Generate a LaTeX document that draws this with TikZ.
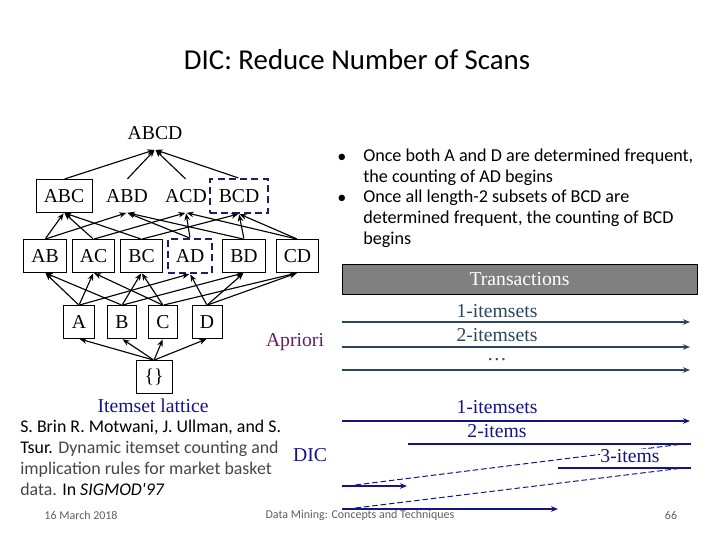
\documentclass[tikz,border=0pt]{standalone}
\usepackage{fontspec}
\setmainfont{Liberation Serif}
\newfontfamily\slidefont{Carlito}
\usetikzlibrary{arrows.meta,positioning,calc}
\definecolor{dicblue}{RGB}{20,20,135}
\definecolor{dashcol}{RGB}{30,30,100}
\definecolor{aprcol}{RGB}{100,30,100}
\definecolor{scancol}{RGB}{45,70,95}
\definecolor{citegray}{RGB}{70,70,70}
\definecolor{footgray}{RGB}{95,95,95}

\tikzset{
  latfont/.style={font=\fontsize{14}{16}\selectfont},
  setbox/.style={latfont,draw,line width=0.6pt,inner sep=0pt,minimum height=0.82cm},
  plainset/.style={latfont,inner sep=0pt,minimum height=0.82cm},
  dashset/.style={latfont,draw=dashcol,line width=1.5pt,dash pattern=on 5pt off 3pt,inner sep=0pt,minimum height=0.84cm},
  edge/.style={->,line width=0.8pt,shorten <=0.5pt,shorten >=0.5pt},
  slidetext/.style={font=\slidefont\fontsize{12.9}{14.7}\selectfont,inner sep=0pt,align=left},
  scanarrow/.style={->,scancol,line width=1.3pt},
  dicarrow/.style={->,dicblue,line width=1.6pt},
  dicline/.style={dicblue,line width=1pt},
  dicdash/.style={dicblue,line width=0.7pt,dash pattern=on 4pt off 2pt},
  scanlab/.style={latfont,scancol,inner sep=0pt},
  diclab/.style={latfont,dicblue,inner sep=0pt},
  foot/.style={font=\slidefont\fontsize{8.5}{10}\selectfont,footgray,inner sep=0pt}
}

\begin{document}
\begin{tikzpicture}[x=0.025cm,y=-0.025cm,>={Stealth[length=5pt,width=4pt]}]
  \useasboundingbox (0,0) rectangle (720,540);
  \node[font=\slidefont\fontsize{20.5}{24}\selectfont] (title) at (357,60) {DIC: Reduce Number of Scans};

  % itemset lattice
  \node[plainset] (abcd) at (155,133) {ABCD};
  \node[setbox,minimum width=1.4cm] (abc) at (64,196) {ABC};
  \node[plainset] (abd) at (127,196) {ABD};
  \node[plainset] (acd) at (186,196) {ACD};
  \node[dashset,minimum width=1.45cm] (bcd) at (239,196) {BCD};
  \node[setbox,minimum width=1.07cm] (ab) at (45,256) {AB};
  \node[setbox,minimum width=1.07cm] (ac) at (93.5,256) {AC};
  \node[setbox,minimum width=1.07cm] (bc) at (141.5,256) {BC};
  \node[dashset,minimum width=1.12cm] (ad) at (190,256) {AD};
  \node[setbox,minimum width=1.07cm] (bd) at (244,256) {BD};
  \node[setbox,minimum width=1.07cm] (cd) at (297.5,256) {CD};
  \node[setbox,minimum width=0.78cm] (a) at (79,322) {A};
  \node[setbox,minimum width=0.72cm] (b) at (122,322) {B};
  \node[setbox,minimum width=0.72cm] (c) at (163,322) {C};
  \node[setbox,minimum width=0.75cm] (d) at (207,322) {D};
  \node[setbox,minimum width=0.9cm] (emp) at (154,377) {\{\}};
  \node[latfont,dicblue] (latname) at (153,406) {Itemset lattice};
  \node[latfont,aprcol] (apriori) at (295,342) {Apriori};

  \foreach \lo/\hi in {abc/abcd,abd/abcd,acd/abcd,bcd/abcd,
      ab/abc,ac/abc,bc/abc, ab/abd,ad/abd,bd/abd,
      ac/acd,ad/acd,cd/acd, bc/bcd,bd/bcd,cd/bcd,
      a/ab,b/ab, a/ac,c/ac, b/bc,c/bc, a/ad,d/ad, b/bd,d/bd, c/cd,d/cd,
      emp/a,emp/b,emp/c,emp/d}
    \draw[edge] (\lo.north) -- (\hi.south);

  % bullets
  \node[slidetext] (bul1) at (342,158) {\textbullet};
  \node[slidetext] (bul2) at (342,199) {\textbullet};
  \node[slidetext,anchor=north west] (txt1) at (363,149) {Once both A and D are determined frequent,\\the counting of AD begins};
  \node[slidetext,anchor=north west] (txt2) at (363,190) {Once all length-2 subsets of BCD are\\determined frequent, the counting of BCD\\begins};

  % Apriori scans
  \node[draw,line width=0.6pt,fill=gray,text=white,latfont,minimum width=8.875cm,minimum height=0.75cm,inner sep=0pt] (trans) at (519.5,279) {Transactions};
  \coordinate (s1w) at (342,322); \coordinate (s1e) at (690,322);
  \coordinate (s2w) at (342,347); \coordinate (s2e) at (690,347);
  \coordinate (s3w) at (342,370); \coordinate (s3e) at (690,370);
  \draw[scanarrow] (s1w) -- (s1e);
  \draw[scanarrow] (s2w) -- (s2e);
  \draw[scanarrow] (s3w) -- (s3e);
  \node[scanlab] (sl1) at (497,311) {1-itemsets};
  \node[scanlab] (sl2) at (497,335) {2-itemsets};
  \node[scanlab] (sl3) at (497,360) {\dots};

  % DIC scans
  \node[latfont,dicblue] (dic) at (310,455) {DIC};
  \coordinate (d1w) at (342,421); \coordinate (d1e) at (690,421);
  \coordinate (d2w) at (408,444); \coordinate (d2e) at (691,444);
  \coordinate (d3w) at (558,468); \coordinate (d3e) at (691,468);
  \coordinate (d4w) at (342,486); \coordinate (d4e) at (407,486);
  \coordinate (d5w) at (342,509); \coordinate (d5e) at (558,509);
  \draw[dicarrow] (d1w) -- (d1e);
  \draw[dicline] (d2w) -- (d2e);
  \draw[dicline] (d3w) -- (d3e);
  \draw[dicarrow] (d4w) -- (d4e);
  \draw[dicarrow] (d5w) -- (d5e);
  \draw[dicdash] ($(d4w)+(5,0)$) -- ($(d2e)+(-8,0)$);
  \draw[dicdash] ($(d5w)+(5,0)$) -- ($(d3e)+(-8,0)$);
  \node[diclab] (dl1) at (497,407) {1-itemsets};
  \node[diclab] (dl2) at (497,431) {2-items};
  \node[diclab,fill=white,inner sep=0.5pt] (dl3) at (630,456) {3-items};

  % reference
  \node[slidetext,anchor=north west,font=\slidefont\fontsize{12.7}{15}\selectfont] (cite) at (20,420) {S. Brin R. Motwani, J. Ullman, and S.\\Tsur. {\color{citegray}Dynamic itemset counting and}\\{\color{citegray}implication rules for market basket}\\{\color{citegray}data.} In \textit{SIGMOD'97}};

  % footer
  \node[foot] (date) at (81,515) {16 March 2018};
  \node[foot] (course) at (360,515) {Data Mining: Concepts and Techniques};
  \node[foot] (page) at (671,515) {66};
\end{tikzpicture}
\end{document}
